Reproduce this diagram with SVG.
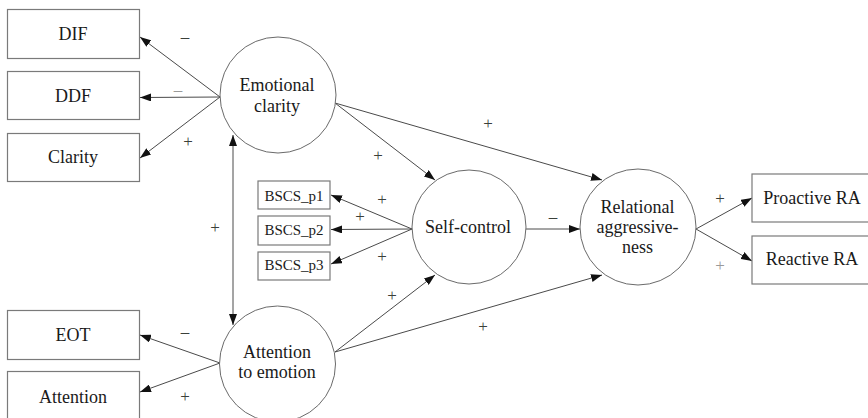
<svg xmlns="http://www.w3.org/2000/svg" width="868" height="418" viewBox="0 0 868 418">
<style>
.box{fill:#fff;stroke:#7a7a7a;stroke-width:1.2}
.lat{fill:#fff;stroke:#6a6a6a;stroke-width:1}
text{font-family:'Liberation Serif','DejaVu Serif','Times New Roman',serif}
.t{font-size:18px;fill:#1a1a1a;text-anchor:middle}
.ts{font-size:15px;fill:#1a1a1a;text-anchor:middle}
.sg{font-size:17px;fill:#3a403a;text-anchor:middle}
.sgl{fill:#9a9a9a}
.c{stroke:#4a4a4a;stroke-width:1;fill:none;marker-end:url(#ah)}
</style>
<defs>
<marker id="ah" markerUnits="userSpaceOnUse" markerWidth="11" markerHeight="8" refX="11" refY="4" orient="auto-start-reverse">
<path d="M0,0 L11,4 L0,8 z" fill="#111"/>
</marker>
</defs>
<rect width="868" height="418" fill="#fff"/>
<g id="connectors">
<line class="c" x1="220" y1="97" x2="140" y2="37"/>
<line class="c" x1="220" y1="97" x2="140" y2="97.5"/>
<line class="c" x1="220" y1="97" x2="140" y2="158"/>
<line class="c" x1="233" y1="135" x2="233" y2="325" style="marker-start:url(#ah)"/>
<line class="c" x1="335" y1="103" x2="435" y2="180"/>
<line class="c" x1="335" y1="103" x2="602" y2="180"/>
<line class="c" x1="412" y1="229" x2="331" y2="195"/>
<line class="c" x1="412" y1="229" x2="331" y2="229.5"/>
<line class="c" x1="412" y1="229" x2="331" y2="264"/>
<line class="c" x1="220" y1="363" x2="140" y2="335"/>
<line class="c" x1="220" y1="363" x2="140" y2="392"/>
<line class="c" x1="335" y1="352" x2="435" y2="275"/>
<line class="c" x1="335" y1="352" x2="602" y2="275"/>
<line class="c" x1="526" y1="229" x2="580" y2="229"/>
<line class="c" x1="696" y1="229" x2="752" y2="198"/>
<line class="c" x1="696" y1="229" x2="752" y2="261"/>
</g>
<g id="labels">
<text class="sg" x="185" y="42">–</text>
<text class="sg sgl" x="178" y="95">–</text>
<text class="sg" x="188" y="147">+</text>
<text class="sg" x="215" y="233">+</text>
<text class="sg" x="378" y="161">+</text>
<text class="sg" x="382" y="205">+</text>
<text class="sg" x="360" y="222">+</text>
<text class="sg" x="382" y="262">+</text>
<text class="sg" x="392" y="301">+</text>
<text class="sg" x="483" y="332">+</text>
<text class="sg" x="488" y="129">+</text>
<text class="sg" x="553" y="222">–</text>
<text class="sg" x="720" y="204">+</text>
<text class="sg sgl" x="720" y="271">+</text>
<text class="sg" x="185" y="337">–</text>
<text class="sg" x="185" y="402">+</text>
</g>
<g id="DIF"><rect class="box" x="7.5" y="9.5" width="132" height="49"/><text class="t" x="73" y="40">DIF</text></g>
<g id="DDF"><rect class="box" x="7.5" y="71.5" width="132" height="48"/><text class="t" x="73" y="102">DDF</text></g>
<g id="Clarity"><rect class="box" x="7.5" y="133.5" width="132" height="48"/><text class="t" x="73" y="163">Clarity</text></g>
<g id="EOT"><rect class="box" x="7.5" y="310.5" width="132" height="49"/><text class="t" x="73" y="341">EOT</text></g>
<g id="Attention"><rect class="box" x="7.5" y="371.5" width="132" height="60"/><text class="t" x="73" y="403">Attention</text></g>
<g id="BSCS_p1"><rect class="box" x="258" y="181" width="72" height="28"/><text class="ts" x="294" y="201">BSCS_p1</text></g>
<g id="BSCS_p2"><rect class="box" x="258" y="216" width="72" height="29"/><text class="ts" x="294" y="235">BSCS_p2</text></g>
<g id="BSCS_p3"><rect class="box" x="258" y="252" width="72" height="28"/><text class="ts" x="294" y="270">BSCS_p3</text></g>
<g id="ProactiveRA"><rect class="box" x="752" y="174" width="130" height="48"/><text class="t" x="812" y="204">Proactive RA</text></g>
<g id="ReactiveRA"><rect class="box" x="752" y="236" width="130" height="48"/><text class="t" x="812" y="265">Reactive RA</text></g>
<g id="EmotionalClarity"><circle class="lat" cx="278" cy="95" r="58"/><text class="t" x="277" y="91">Emotional</text><text class="t" x="277" y="112">clarity</text></g>
<g id="AttentionToEmotion"><circle class="lat" cx="277.5" cy="364" r="58"/><text class="t" x="277" y="358">Attention</text><text class="t" x="277" y="378">to emotion</text></g>
<g id="SelfControl"><circle class="lat" cx="469" cy="227" r="57"/><text class="t" x="468" y="233">Self-control</text></g>
<g id="RelationalAggressiveness"><circle class="lat" cx="638" cy="227" r="58"/><text class="t" x="637.5" y="213">Relational</text><text class="t" x="637.5" y="233">aggressive-</text><text class="t" x="637.5" y="253">ness</text></g>
</svg>
